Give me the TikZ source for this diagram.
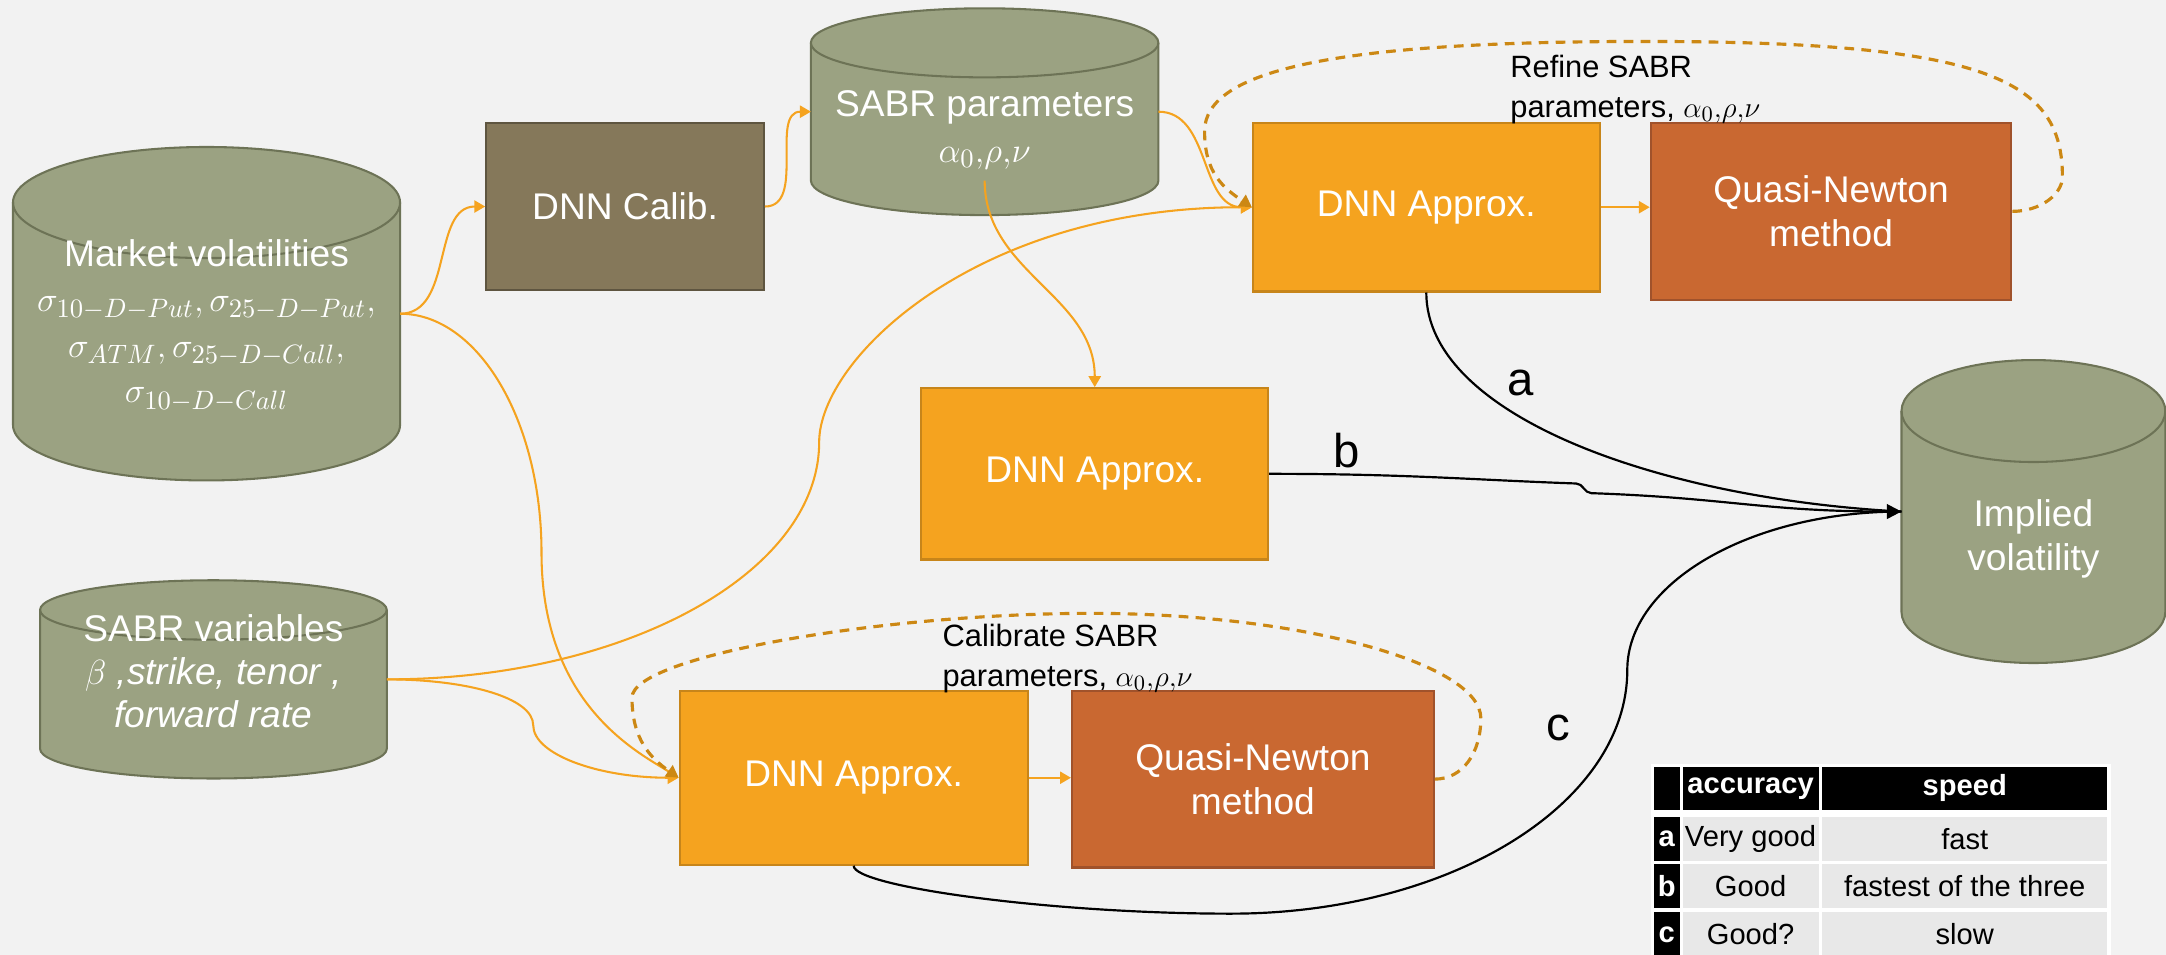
\documentclass[tikz,border=0pt]{standalone}
\usepackage{fontspec}
\setmainfont{Liberation Sans}
\usetikzlibrary{arrows.meta}

\definecolor{paper}{HTML}{F2F2F2}
\definecolor{storefill}{HTML}{9BA282}
\definecolor{storeedge}{HTML}{6D7356}
\definecolor{calibfill}{HTML}{85785A}
\definecolor{calibedge}{HTML}{5E5540}
\definecolor{approxfill}{HTML}{F5A31F}
\definecolor{approxedge}{HTML}{C7851A}
\definecolor{newtonfill}{HTML}{C96831}
\definecolor{newtonedge}{HTML}{A0522B}
\definecolor{feedline}{HTML}{F5A31F}
\definecolor{loopline}{HTML}{CC8814}
\definecolor{cellgray}{HTML}{E8E8E8}

\newcommand\labelsize{\fontsize{15.3}{18.4}\selectfont}
\newcommand\notesize{\fontsize{12.7}{16.4}\selectfont}
\newcommand\cellsize{\fontsize{12}{14}\selectfont}

% data store: name, centre, width, body height, rim radius
\newcommand\datastore[5]{%
  \node[minimum width=#3, minimum height=#4, inner sep=0pt, outer sep=0pt] (#1) at (#2) {};
  \filldraw[store] (#1.north west) -- (#1.south west)
    arc[start angle=180, end angle=360, x radius=#3/2, y radius=#5]
    -- (#1.north east)
    arc[start angle=0, end angle=180, x radius=#3/2, y radius=#5] -- cycle;
  \draw[store, fill=none] (#1.north west)
    arc[start angle=180, end angle=360, x radius=#3/2, y radius=#5];
}

\begin{document}
\begin{tikzpicture}[
  store/.style={fill=storefill, draw=storeedge, line width=0.85pt},
  storetext/.style={text=white, font=\labelsize, align=center, inner sep=0pt},
  procbox/.style={rectangle, line width=0.85pt, text=white, font=\labelsize, align=center, inner sep=0pt},
  calibbox/.style={procbox, fill=calibfill, draw=calibedge},
  approxbox/.style={procbox, fill=approxfill, draw=approxedge},
  newtonbox/.style={procbox, fill=newtonfill, draw=newtonedge},
  feed/.style={draw=feedline, line width=0.85pt, -{Triangle[length=4.5pt,width=5pt]}},
  refine/.style={draw=loopline, line width=1.3pt, dash pattern=on 4pt off 3pt, -{Triangle[length=5pt,width=5.5pt]}},
  result/.style={draw=black, line width=0.9pt},
  pathtag/.style={font=\fontsize{19.5}{22}\selectfont, inner sep=0pt},
  loopnote/.style={font=\notesize, align=left, anchor=west, inner sep=0pt},
  tabcell/.style={fill=cellgray, minimum height=0.64cm, inner sep=0pt, font=\cellsize},
  headcell/.style={fill=black, text=white, minimum height=0.63cm, inner sep=0pt, font=\cellsize\bfseries},
  keycell/.style={fill=black, text=white, minimum height=0.64cm, inner sep=0pt, font=\cellsize\bfseries},
]
\useasboundingbox (0,0) rectangle (31.36,-13.82);
\fill[paper] (0,0) rectangle (31.36,-13.82);

% stores
\datastore{mv}{2.99,-4.542}{5.604cm}{3.22cm}{0.804cm}
\datastore{par}{14.256,-1.617}{5.032cm}{1.994cm}{0.5cm}
\datastore{var}{3.09,-9.836}{5.02cm}{2.01cm}{0.43cm}
\datastore{vol}{29.44,-7.406}{3.82cm}{2.91cm}{0.738cm}

\node[storetext] (mv-title) at (2.99,-3.66) {Market volatilities};
\node[storetext, font=\fontsize{15.3}{18.7}\selectfont] (mv-vols) at (2.99,-5.126)
  {$\sigma_{10-D-Put},\sigma_{25-D-Put},$\\ $\sigma_{ATM},\sigma_{25-D-Call},$\\ $\sigma_{10-D-Call}$};
\node[storetext] (par-title) at (14.256,-1.56) {SABR parameters};
\node[storetext] (par-sym) at (14.256,-2.294) {$\alpha_0{,}\rho{,}\nu$};
\node[storetext, font=\fontsize{15.3}{17.6}\selectfont] (var-text) at (3.09,-9.72)
  {SABR variables\\ {\itshape $\beta$ ,strike, tenor ,}\\ {\itshape forward rate}};
\node[storetext, font=\fontsize{15.3}{18}\selectfont] (vol-text) at (29.44,-7.8) {Implied\\volatility};

% process boxes
\node[calibbox, minimum width=4.02cm, minimum height=2.42cm] (calib) at (9.05,-2.99) {DNN Calib.};
\node[approxbox, minimum width=5.02cm, minimum height=2.44cm] (aprA) at (20.65,-3.0) {DNN Approx.};
\node[newtonbox, minimum width=5.22cm, minimum height=2.56cm] (qnA) at (26.51,-3.06) {Quasi-Newton\\method};
\node[approxbox, minimum width=5.02cm, minimum height=2.48cm] (aprB) at (15.85,-6.86) {DNN Approx.};
\node[approxbox, minimum width=5.04cm, minimum height=2.52cm] (aprC) at (12.36,-11.26) {DNN Approx.};
\node[newtonbox, minimum width=5.24cm, minimum height=2.56cm] (qnC) at (18.14,-11.28) {Quasi-Newton\\method};

% labels
\node[pathtag] (tag-a) at (22.01,-5.55) {a};
\node[pathtag] (tag-b) at (19.5,-6.52) {b};
\node[pathtag] (tag-c) at (22.56,-10.54) {c};
\node[loopnote] (refine-note) at (21.86,-1.296) {Refine SABR\\parameters, $\alpha_0{,}\rho{,}\nu$};
\node[loopnote] (calib-note) at (13.64,-9.532) {Calibrate SABR\\parameters, $\alpha_0{,}\rho{,}\nu$};

% bend points
\coordinate (cLow) at (17.82,-13.228);
\coordinate (cUp) at (23.56,-9.7);
\coordinate (hopA) at (22.82,-7.0);
\coordinate (hopB) at (23.04,-7.14);
\coordinate (vmid) at (11.86,-6.4);
\coordinate (vjog) at (7.72,-10.5);
\coordinate (mvjog) at (7.84,-8.0);
\coordinate (loopR) at (29.86,-2.56);
\coordinate (loopT) at (23.8,-0.6);
\coordinate (loopL) at (17.44,-1.9);
\coordinate (cloopR) at (21.44,-10.4);
\coordinate (cloopT) at (15.8,-8.88);
\coordinate (cloopL) at (9.15,-10.1);

% inputs
\draw[feed] (mv.east) to[out=0,in=180] (calib.west);
\draw[feed] (mv.east) to[out=0,in=90,out distance=1.13cm,in distance=1.91cm] (mvjog)
  to[out=-90,in=148,out distance=2.2cm,in distance=0.7cm] (aprC.west);
\draw[feed] (calib.east) to[out=0,in=180] (par.west);
\draw[feed] (par.east) to[out=0,in=180] (aprA.west);
\draw[feed] (par.south) to[out=-90,in=90] (aprB.north);
\draw[feed] (var.east) to[out=0,in=-90,out distance=3.44cm,in distance=1.9cm] (vmid)
  to[out=90,in=180,out distance=1.2cm,in distance=4cm] (aprA.west);
\draw[feed] (var.east) to[out=0,in=90,out distance=1.16cm,in distance=0.4cm] (vjog)
  to[out=-90,in=180,out distance=0.42cm,in distance=1.17cm] (aprC.west);
\draw[feed] (aprA.east) -- (aprA.east -| qnA.west);
\draw[feed] (aprC.east) -- (aprC.east -| qnC.west);

% iteration loops
\draw[refine] (qnA.east) to[out=0,in=-90,out distance=0.41cm,in distance=0.25cm] (loopR)
  to[out=90,in=0,out distance=1.4cm,in distance=5cm] (loopT)
  to[out=180,in=90,out distance=4.4cm,in distance=0.9cm] (loopL)
  to[out=-90,in=146,out distance=0.6cm,in distance=0.5cm] (aprA.west);
\draw[refine] (qnC.east) to[out=0,in=-90,out distance=0.4cm,in distance=0.5cm] (cloopR)
  to[out=90,in=0,out distance=0.8cm,in distance=3cm] (cloopT)
  to[out=180,in=90,out distance=3cm,in distance=0.6cm] (cloopL)
  to[out=-90,in=145,out distance=0.6cm,in distance=0.5cm] (aprC.west);

% outputs
\draw[result] (aprA.south) to[out=-90,in=177,out distance=1.78cm,in distance=3.52cm] (vol.west);
\draw[result] (aprC.south) to[out=-90,in=180,out distance=0.3cm,in distance=2.62cm] (cLow)
  to[out=0,in=-90,out distance=3.17cm,in distance=1.94cm] (cUp)
  to[out=90,in=180,out distance=1.26cm,in distance=2.19cm] (vol.west);
\draw[result, -{Triangle[length=6pt,width=6pt]}] (aprB.east)
  to[out=0,in=178,out distance=2cm,in distance=1.5cm] (hopA)
  to[out=0,in=180] (hopB)
  to[out=-2,in=180,out distance=2cm,in distance=2cm] (vol.west);

% comparison table
\fill[white] (23.9,-11.06) rectangle (30.56,-13.95);
\node[headcell, minimum width=0.38cm] (key-h) at (24.13,-11.415) {};
\node[headcell, minimum width=1.97cm] (acc-h) at (25.345,-11.415) {accuracy};
\node[headcell, minimum width=4.132cm] (spd-h) at (28.446,-11.415) {speed};
\foreach \r/\acc/\spd/\y in {a/Very good/fast/-12.143, b/Good/fastest of the three/-12.826, c/Good?/slow/-13.53} {
  \node[keycell, minimum width=0.38cm] (key-\r) at (24.13,\y) {\r};
  \node[tabcell, minimum width=1.97cm] (acc-\r) at (25.345,\y) {\acc};
  \node[tabcell, minimum width=4.132cm] (spd-\r) at (28.446,\y) {\spd};
}
\end{tikzpicture}
\end{document}
